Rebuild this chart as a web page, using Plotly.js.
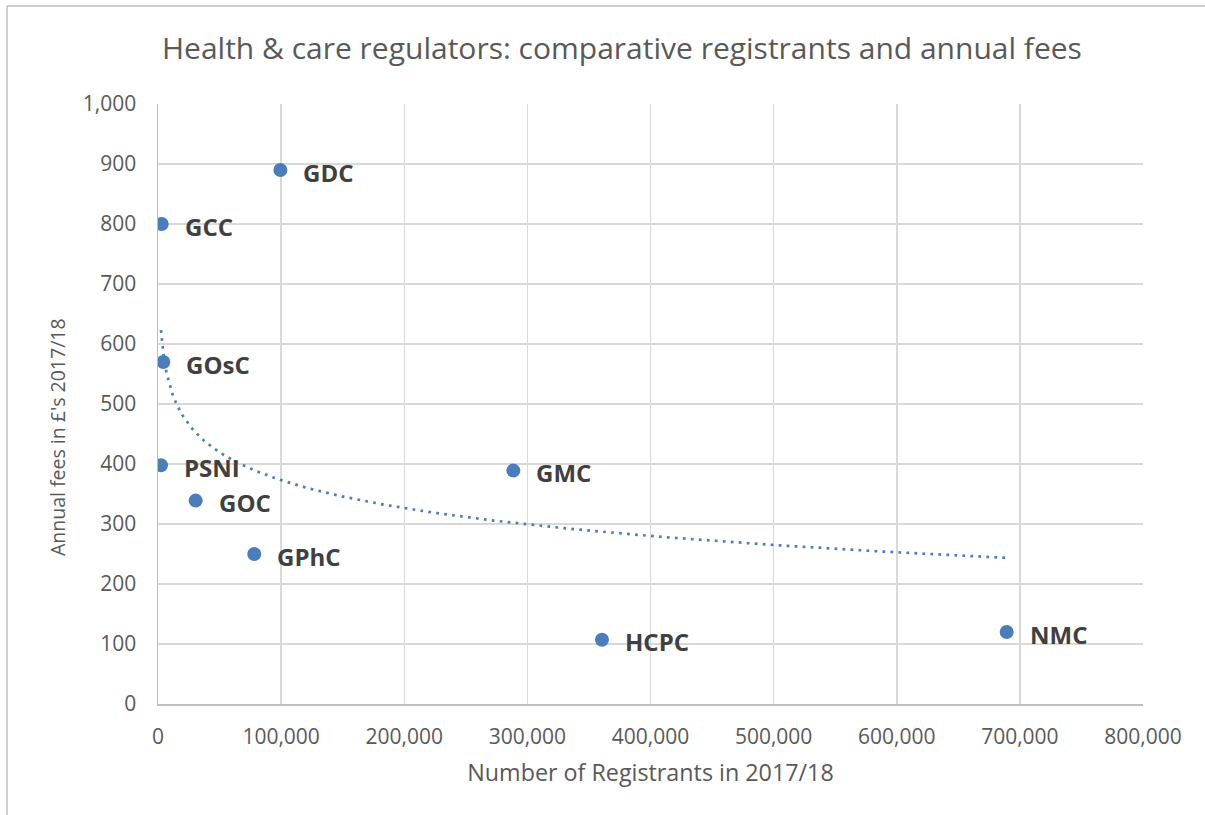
<!DOCTYPE html>
<html>
<head>
<meta charset="utf-8">
<script src="https://cdn.plot.ly/plotly-3.0.1.min.js"></script>
<style>
html,body{margin:0;padding:0;background:#fff;}
#chart{width:1205px;height:815px;}
</style>
</head>
<body>
<div id="chart"></div>
<script>
// ---- data ----
const regulators = ["GCC", "GDC", "GOsC", "PSNI", "GOC", "GPhC", "GMC", "HCPC", "NMC"];
const registrants = [3000, 99400, 4300, 2400, 30600, 78200, 288600, 360600, 689300];
const annualFees = [800, 890, 570, 398, 339, 250, 389, 107, 120];

const xTickVals = [0, 100000, 200000, 300000, 400000, 500000, 600000, 700000, 800000];
const yTickVals = [0, 100, 200, 300, 400, 500, 600, 700, 800, 900, 1000];

// ---- logarithmic trendline (least squares on the data, like Excel) ----
function logFit(xs, ys) {
  const lx = xs.map(v => Math.log(v));
  const n = xs.length;
  const mx = lx.reduce((a, b) => a + b, 0) / n;
  const my = ys.reduce((a, b) => a + b, 0) / n;
  let sxy = 0, sxx = 0;
  for (let i = 0; i < n; i++) { sxy += (lx[i] - mx) * (ys[i] - my); sxx += (lx[i] - mx) ** 2; }
  const b = sxy / sxx;
  return { a: my - b * mx, b: b };
}
const fit = logFit(registrants, annualFees);
const xMin = Math.min(...registrants), xMax = Math.max(...registrants);
const trendX = [], trendY = [];
for (let i = 0; i <= 300; i++) {
  const x = xMin + (xMax - xMin) * i / 300;
  trendX.push(x);
  trendY.push(fit.a + fit.b * Math.log(x));
}

const blue = '#4a7ebb';
const FONT = 'Open Sans, Noto Sans, sans-serif';

const traces = [
  {
    x: trendX, y: trendY, type: 'scatter', mode: 'lines',
    line: { color: blue, width: 2.7, dash: '2.7px,5.3px' },
    hoverinfo: 'skip', showlegend: false
  },
  {
    x: registrants, y: annualFees, type: 'scatter', mode: 'markers',
    marker: { color: blue, size: 14 },
    text: regulators, showlegend: false
  }
];

const annotations = regulators.map((name, i) => ({
  x: registrants[i], y: annualFees[i], xref: 'x', yref: 'y',
  text: '<b>' + name + '</b>', showarrow: false,
  xanchor: 'left', yanchor: 'middle', xshift: 21, yshift: -2,
  font: { family: FONT, size: 24, color: '#404040' }
}));

// y-axis title as annotation (positioned like the reference)
annotations.push({
  xref: 'paper', yref: 'paper', x: -0.1015, y: 0.445,
  text: "Annual fees in £'s 2017/18", textangle: -90, showarrow: false,
  xanchor: 'center', yanchor: 'middle',
  font: { family: FONT, size: 19.5, color: '#595959' }
});

const layout = {
  width: 1205, height: 815,
  margin: { l: 158, r: 62, t: 104, b: 111 },
  paper_bgcolor: '#ffffff', plot_bgcolor: '#ffffff',
  font: { family: FONT, color: '#595959' },
  title: {
    text: 'Health &amp; care regulators: comparative registrants and annual fees',
    font: { family: FONT, size: 30, color: '#595959' },
    xref: 'paper', x: 0.471, xanchor: 'center',
    yref: 'container', y: 0.941, yanchor: 'middle'
  },
  xaxis: {
    range: [0, 800000], tickvals: xTickVals, tickformat: ',d',
    showgrid: true, gridcolor: '#d9d9d9', gridwidth: 1.5,
    showline: true, linecolor: '#bfbfbf', linewidth: 1.5,
    zeroline: false, ticks: '', ticklabelstandoff: 13,
    tickfont: { family: FONT, size: 21, color: '#595959' },
    title: { text: 'Number of Registrants in 2017/18', standoff: 16,
             font: { family: FONT, size: 23.3, color: '#595959' } },
    fixedrange: true
  },
  yaxis: {
    range: [0, 1000], tickvals: yTickVals, tickformat: ',d',
    showgrid: true, gridcolor: '#d9d9d9', gridwidth: 1.5,
    showline: true, linecolor: '#bfbfbf', linewidth: 1.5,
    zeroline: false, ticks: '', ticklabelstandoff: 16,
    tickfont: { family: FONT, size: 21, color: '#595959' },
    fixedrange: true
  },
  annotations: annotations,
  shapes: [
    { type: 'line', xref: 'paper', yref: 'paper', x0: -0.1533, x1: -0.1533, y0: 1.1633, y1: -0.19,
      line: { color: '#bfbfbf', width: 1.5 } },
    { type: 'line', xref: 'paper', yref: 'paper', x0: -0.1533, x1: 1.07, y0: 1.1633, y1: 1.1633,
      line: { color: '#bfbfbf', width: 1.5 } }
  ],
  showlegend: false
};

Plotly.newPlot('chart', traces, layout, { displayModeBar: false, staticPlot: true });
</script>
</body>
</html>
